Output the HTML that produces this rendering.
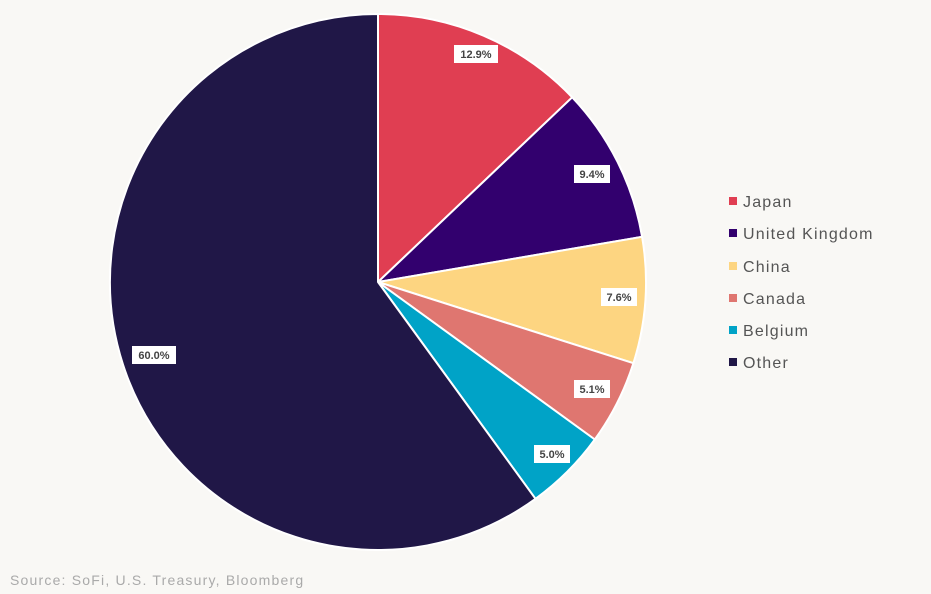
<!DOCTYPE html>
<html><head><meta charset="utf-8"><style>
body{margin:0;background:#f9f8f5;}
svg{display:block;font-family:"Liberation Sans",sans-serif;}
</style></head><body>
<svg width="931" height="594" viewBox="0 0 931 594">
<rect width="931" height="594" fill="#f9f8f5"/>
<g stroke="#fff" stroke-width="2" stroke-linejoin="round">
<path d="M378,282 L378,14 A268,268 0 0 1 572.2,97.3 Z" fill="#e03e52"/>
<path d="M378,282 L572.2,97.3 A268,268 0 0 1 642.1,236.8 Z" fill="#32006e"/>
<path d="M378,282 L642.1,236.8 A268,268 0 0 1 633.4,363.2 Z" fill="#fdd581"/>
<path d="M378,282 L633.4,363.2 A268,268 0 0 1 594.8,439.5 Z" fill="#df7670"/>
<path d="M378,282 L594.8,439.5 A268,268 0 0 1 535.5,498.8 Z" fill="#00a3c7"/>
<path d="M378,282 L535.5,498.8 A268,268 0 1 1 378,14 Z" fill="#201747"/>
</g>
<g font-size="11" font-weight="bold" fill="#444" text-anchor="middle">
<rect x="454" y="45" width="44" height="18" fill="#fff"/><text x="476" y="58">12.9%</text>
<rect x="574" y="165" width="36" height="18" fill="#fff"/><text x="592" y="178">9.4%</text>
<rect x="601" y="288" width="36" height="18" fill="#fff"/><text x="619" y="301">7.6%</text>
<rect x="574" y="380" width="36" height="18" fill="#fff"/><text x="592" y="393">5.1%</text>
<rect x="534" y="445" width="36" height="18" fill="#fff"/><text x="552" y="458">5.0%</text>
<rect x="132" y="346" width="44" height="18" fill="#fff"/><text x="154" y="359">60.0%</text>
</g>
<g font-size="16" fill="#555" letter-spacing="1.2">
<rect x="729" y="197" width="8" height="8" fill="#e03e52"/><text x="743" y="207">Japan</text>
<rect x="729" y="229" width="8" height="8" fill="#32006e"/><text x="743" y="239">United Kingdom</text>
<rect x="729" y="262" width="8" height="8" fill="#fdd581"/><text x="743" y="272">China</text>
<rect x="729" y="294" width="8" height="8" fill="#df7670"/><text x="743" y="304">Canada</text>
<rect x="729" y="326" width="8" height="8" fill="#00a3c7"/><text x="743" y="336">Belgium</text>
<rect x="729" y="358" width="8" height="8" fill="#201747"/><text x="743" y="368">Other</text>
</g>
<text x="10" y="585" font-size="14" fill="#aaa" letter-spacing="1.2">Source: SoFi, U.S. Treasury, Bloomberg</text>
</svg>
</body></html>
